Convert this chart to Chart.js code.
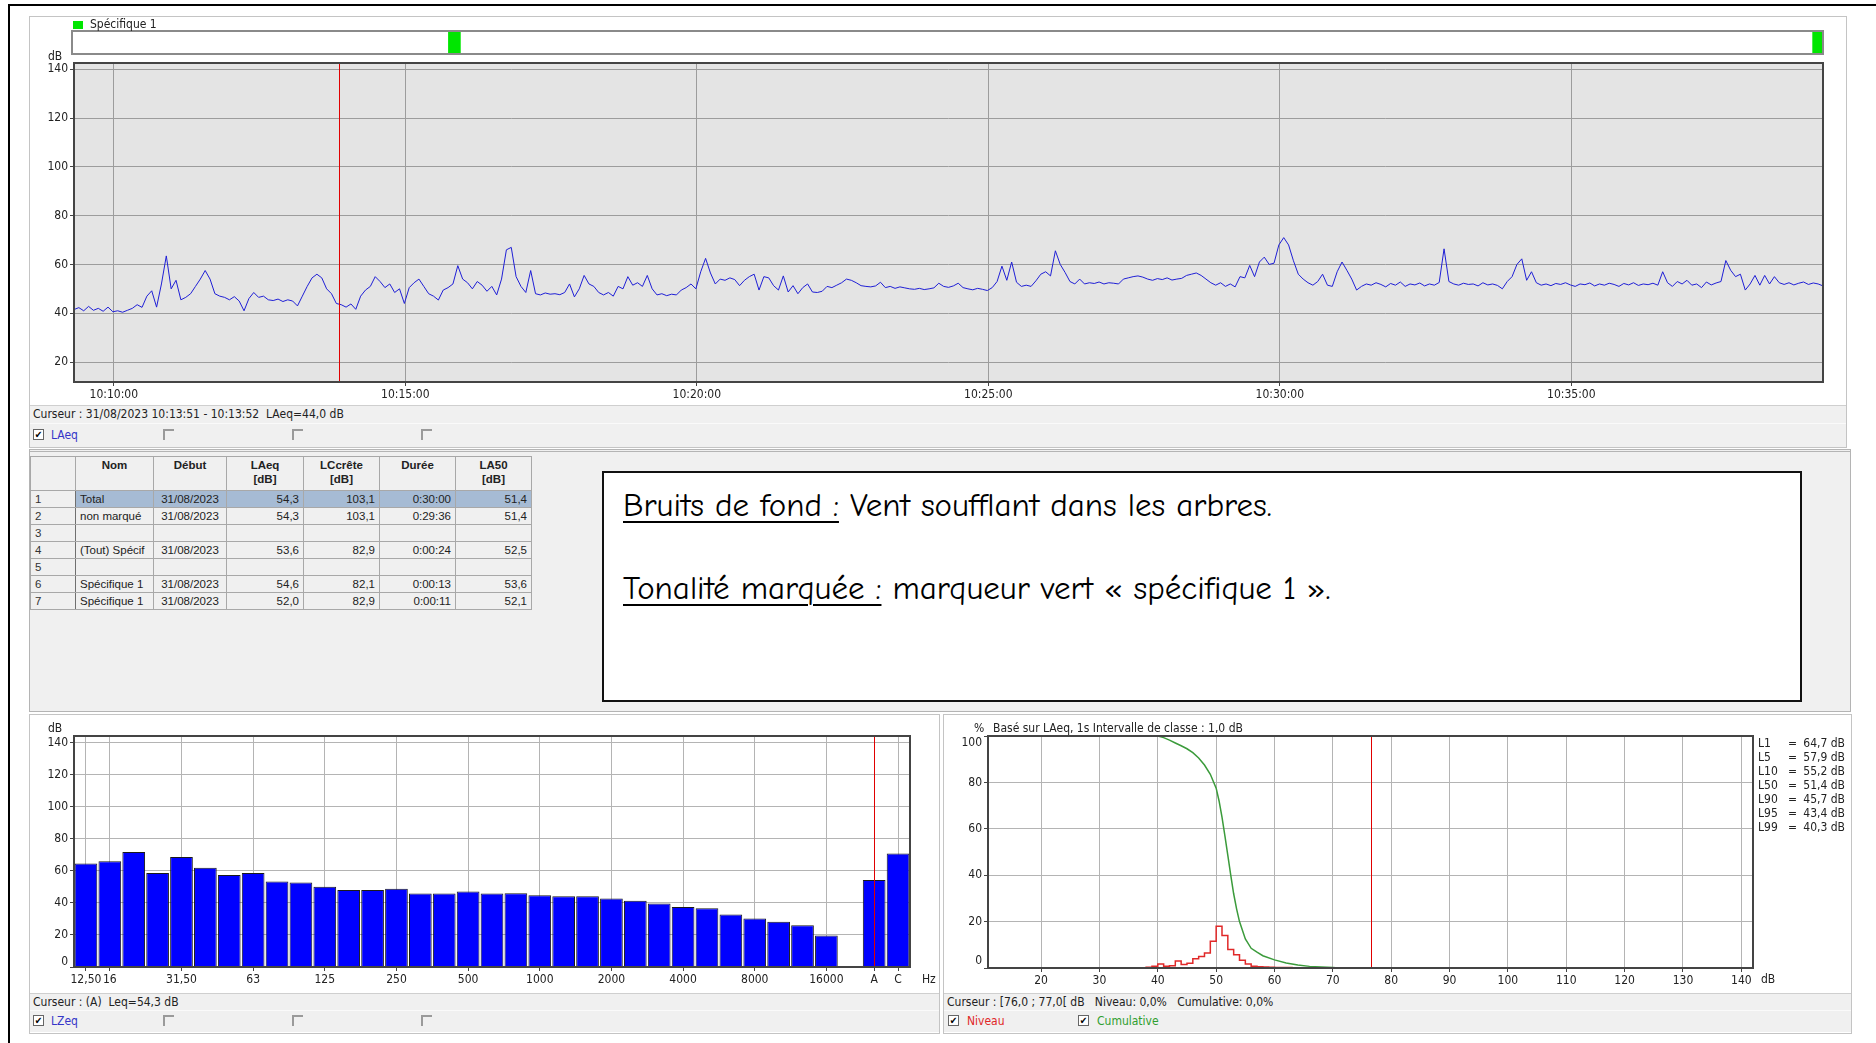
<!DOCTYPE html>
<html>
<head>
<meta charset="UTF-8">
<title>Mesure LAeq - 31/08/2023</title>
<script src="https://cdn.jsdelivr.net/npm/chart.js"></script>
<style>
  body { margin:0; width:1876px; height:1043px; position:relative; overflow:hidden; background:#fff;
         font-family:"Liberation Sans Narrow","DejaVu Sans Condensed",sans-serif; font-size:12px; color:#222; }
  .abs { position:absolute; box-sizing:border-box; }
  .frame { left:8px; top:4px; width:1868px; height:1039px; border-top:2px solid #000; border-left:2px solid #000; }
  .panel { background:#fff; border:1px solid #c4c4c4; }
  .strip { background:#f0f0f0; border-top:1px solid #cfcfcf; line-height:16px; padding-left:3px; white-space:pre; }
  .row { background:#f0f0f0; border-top:1px solid #fafafa; }
  .chk { width:11px; height:11px; background:#fff; border:1px solid #666; font-size:10px; line-height:10px; text-align:center; color:#000; }
  .off { width:11px; height:11px; border-top:2px solid #9a9a9a; border-left:2px solid #9a9a9a; }
  .lbl { line-height:14px; white-space:pre; }
  canvas { position:absolute; }
  #tbl { position:absolute; left:30px; top:456px; border-collapse:collapse; font-family:"Liberation Sans",Arial,sans-serif; font-size:11.5px; table-layout:fixed; }
  #tbl td, #tbl th { border:1px solid #a8a8a8; padding:0 4px; height:16px; line-height:15px; white-space:nowrap; overflow:hidden; }
  #tbl th { background:#f0f0f0; font-weight:bold; height:32px; vertical-align:top; text-align:center; line-height:14px; padding-top:1px; }
  #tbl td.num { background:#f0f0f0; border-right:1px solid #707070; text-align:left; color:#333; }
  #tbl tr.sel td:not(.num) { background:#a6bbd4; }
  .note { left:602px; top:471px; width:1200px; height:231px; background:#fff; border:2px solid #111; }
  .note p { position:absolute; left:19px; margin:0; font-family:"Comic Sans MS","Comic Neue","Noto Sans",sans-serif; font-size:33px; line-height:38px; white-space:nowrap; color:#000; }
  .note u { text-decoration-thickness:2px; text-underline-offset:5px; }
</style>
</head>
<body>
<div class="abs frame"></div>

<!-- panneau du haut -->
<div class="abs panel" style="left:29px;top:16px;width:1818px;height:432px;"></div>
<canvas id="laeqChart" width="1818" height="389" style="left:29px;top:16px;"></canvas>
<div class="abs strip" style="left:30px;top:405px;width:1816px;height:18px;">Curseur : 31/08/2023 10:13:51 - 10:13:52  LAeq=44,0 dB</div>
<div class="abs row" style="left:30px;top:423px;width:1816px;height:24px;"></div>
<div class="abs chk" style="left:33px;top:429px;">✔</div>
<div class="abs lbl" style="left:51px;top:428px;color:#3535c8;">LAeq</div>
<div class="abs off" style="left:163px;top:429px;"></div>
<div class="abs off" style="left:292px;top:429px;"></div>
<div class="abs off" style="left:421px;top:429px;"></div>

<!-- panneau du milieu -->
<div class="abs" style="left:29px;top:449px;width:1822px;height:263px;background:#f0f0f0;border:1px solid #b4b4b4;border-top:3px double #b4b4b4;"></div>
<table id="tbl"></table>
<div class="abs note">
  <p style="top:13px;"><u>Bruits de fond :</u> Vent soufflant dans les arbres.</p>
  <p style="top:96px;"><u>Tonalité marquée :</u> marqueur vert « spécifique 1 ».</p>
</div>

<!-- spectre -->
<div class="abs panel" style="left:29px;top:714px;width:911px;height:320px;"></div>
<canvas id="specChart" width="908" height="277" style="left:30px;top:716px;"></canvas>
<div class="abs strip" style="left:30px;top:993px;width:909px;height:17px;">Curseur : (A)  Leq=54,3 dB</div>
<div class="abs row" style="left:30px;top:1010px;width:909px;height:22px;"></div>
<div class="abs chk" style="left:33px;top:1015px;">✔</div>
<div class="abs lbl" style="left:51px;top:1014px;color:#3535c8;">LZeq</div>
<div class="abs off" style="left:163px;top:1015px;"></div>
<div class="abs off" style="left:292px;top:1015px;"></div>
<div class="abs off" style="left:421px;top:1015px;"></div>

<!-- distribution -->
<div class="abs panel" style="left:943px;top:714px;width:909px;height:320px;"></div>
<canvas id="distChart" width="907" height="277" style="left:944px;top:716px;"></canvas>
<div class="abs strip" style="left:944px;top:993px;width:907px;height:17px;">Curseur : [76,0 ; 77,0[ dB   Niveau: 0,0%   Cumulative: 0,0%</div>
<div class="abs row" style="left:944px;top:1010px;width:907px;height:22px;"></div>
<div class="abs chk" style="left:948px;top:1015px;">✔</div>
<div class="abs lbl" style="left:967px;top:1014px;color:#e02828;">Niveau</div>
<div class="abs chk" style="left:1078px;top:1015px;">✔</div>
<div class="abs lbl" style="left:1097px;top:1014px;color:#2f9e2f;">Cumulative</div>

<script>
// ---- données : évolution temporelle LAeq (pas de 5 s) ----
var laeqStartTime = '10:09:19';
var laeqStep = 5;
var laeq = [
  41.5, 42.3, 41.0, 42.8, 41.2, 42.0, 40.8, 42.5, 40.6, 41.0, 40.4, 41.2,
  42.0, 43.5, 42.4, 47.0, 49.2, 42.5, 52.0, 63.5, 50.0, 53.5, 45.5, 46.5, 48.0,
  51.0, 54.0, 57.5, 54.0, 48.0, 47.0, 46.5, 45.5, 46.8, 45.0, 41.0,
  46.0, 48.5, 46.5, 47.0, 45.5, 45.2, 45.8, 44.8, 45.5, 45.0, 43.0,
  47.0, 51.0, 54.5, 56.0, 54.5, 50.0, 48.0, 44.0, 43.5, 42.5, 43.8, 41.6,
  47.0, 49.5, 51.0, 55.0, 53.0, 50.5, 52.0, 48.5, 50.0, 44.0,
  50.5, 52.5, 54.0, 51.0, 48.0, 47.0, 45.4, 49.5, 50.5, 52.0, 59.5, 54.0,
  52.5, 50.0, 53.0, 51.5, 49.0, 51.0, 47.5, 54.0, 66.0, 67.0, 55.0, 51.0, 48.5, 57.5,
  48.0, 47.5, 48.3, 47.8, 48.0, 47.6, 48.5,
  52.0, 46.7, 50.0, 55.5, 52.0, 51.0, 48.5, 47.5, 48.5, 47.0,
  51.0, 50.0, 55.0, 51.5, 52.5, 51.0, 55.5, 50.0, 47.5, 48.0, 47.2, 47.8, 47.5,
  49.5, 50.5, 52.0, 50.0, 57.0, 62.5, 56.5, 52.0, 54.0, 53.5, 54.5, 53.8,
  51.3, 53.5, 55.0, 56.0, 49.5, 55.0, 54.5, 51.3, 49.5, 55.3, 48.7, 51.3, 48.0, 50.5, 52.0, 48.7, 48.5, 49.0,
  51.0, 50.5, 51.5, 52.5, 54.0, 53.5, 52.5, 51.3, 51.0, 50.8, 51.2, 52.7,
  50.5, 51.0, 50.2, 50.8, 50.4, 50.0, 49.8, 50.2, 49.7, 50.0, 50.4,
  52.3, 51.0, 50.6, 51.2, 52.3, 50.5, 50.0, 49.6, 50.2, 49.8, 49.3,
  50.5, 53.0, 59.3, 53.5, 61.0, 52.7, 51.0, 51.5, 51.0, 53.3, 56.0, 57.0, 55.3, 65.6, 60.0, 56.7, 53.0, 52.0, 54.0,
  52.0, 52.5, 52.2, 52.8, 52.0, 52.5, 52.3, 52.0, 54.0, 54.5, 55.0, 55.3, 54.8,
  54.0, 53.5, 54.2, 53.8, 54.5, 53.6, 54.0, 54.3, 55.5, 56.0, 56.5, 55.5, 54.0,
  52.5, 51.5, 52.5, 51.0, 52.0, 50.8, 55.0, 54.5, 59.6, 55.0, 61.0, 63.0, 60.0, 60.5,
  68.0, 71.0, 68.0, 61.5, 56.0, 54.0, 52.5, 51.5, 53.0, 56.0, 51.5, 51.0,
  57.0, 61.0, 57.6, 54.0, 49.5,
  51.0, 52.0, 51.5, 52.5, 51.8, 50.8, 52.2, 51.5, 52.8, 51.0, 52.0, 51.6, 52.4, 51.2, 52.0, 51.5, 52.6,
  66.4, 53.0, 52.0, 51.5, 52.3, 51.8, 52.0, 51.2, 52.5, 51.6, 52.0, 51.4,
  50.0, 53.0, 55.0, 60.0, 62.3, 53.5, 57.0, 52.5,
  51.5, 52.0, 51.3, 52.2, 51.8, 52.5, 51.6, 51.0, 52.0, 51.7, 52.4, 51.2, 52.0,
  51.5, 52.3, 51.8, 51.0, 52.2, 51.6, 52.5, 51.4, 52.0, 51.7, 52.3, 51.5, 57.0,
  52.5, 51.0, 53.0, 52.0, 53.5, 51.5, 52.0, 50.5, 52.8, 51.6, 52.4, 53.0,
  61.6, 57.6, 55.0, 56.0, 49.5, 52.0, 55.5, 51.5, 55.5, 52.0, 55.0, 52.5,
  51.8, 52.5, 51.6, 52.3, 52.8, 51.8, 52.4, 52.0, 51.2
];
var timeTickLabels = ['10:10:00', '10:15:00', '10:20:00', '10:25:00', '10:30:00', '10:35:00'];
var levelTicks = [20, 40, 60, 80, 100, 120, 140];
var cursorTime = '10:13:51';
var markerStart = ['10:15:44', '10:39:08'];
var markerEnd = ['10:15:57', '10:39:19'];
var laeqEndTime = '10:39:19';

// ---- données : spectre 1/3 d'octave ----
var bandLabels = ['12,50', '16', '20', '25', '31,50', '40', '50', '63', '80', '100', '125', '160', '200', '250',
  '315', '400', '500', '630', '800', '1000', '1250', '1600', '2000', '2500', '3150', '4000', '5000', '6300',
  '8000', '10000', '12500', '16000', '', 'A', 'C'];
var bandLevels = [64.6, 66.0, 71.8, 58.7, 68.7, 61.9, 57.4, 58.7, 53.3, 52.7, 50.1, 48.0, 48.0, 48.8,
  45.9, 45.9, 47.2, 45.9, 46.0, 44.8, 44.1, 44.1, 42.7, 41.4, 39.6, 37.5, 36.7, 32.8,
  30.2, 28.3, 26.1, 19.7, null, 54.3, 70.8];
var bandShown = ['12,50', '16', '31,50', '63', '125', '250', '500', '1000', '2000', '4000', '8000', '16000', 'A', 'C'];
var specTicks = [0, 20, 40, 60, 80, 100, 120, 140];

// ---- données : distribution statistique ----
var niveauDb = [38, 39, 40, 41, 42, 43, 44, 45, 46, 47, 48, 49, 50, 51, 52, 53, 54, 55, 56, 57, 58, 59, 60, 61, 62, 63, 64, 65, 66];
var niveauPct = [0, 0.3, 0.8, 1.7, 0.8, 1.0, 3.0, 1.5, 2.0, 4.0, 5.0, 6.5, 11.5, 18.0, 14.0, 8.0, 5.7, 3.3, 1.7, 0.8, 0.5, 0.4, 0.3, 0.2, 0.2, 0.2, 0.1, 0.1, 0];
var cumDb = [10.9, 40, 41, 42, 43, 44, 45, 46, 47, 48, 49, 50, 50.5, 51, 51.5, 52, 52.5, 53, 53.5, 54, 55, 56, 57, 58, 60, 62, 64, 66, 68, 70, 71];
var cumPct = [100, 100, 99.3, 98.2, 97, 95.8, 94.5, 92.8, 90.5, 87.5, 83.5, 77.5, 72, 65, 57, 48.5, 40, 32, 25.5, 20, 12.5, 8.5, 6.8, 5.3, 3.5, 2.2, 1.3, 0.7, 0.4, 0.2, 0];
var distXTicks = [20, 30, 40, 50, 60, 70, 80, 90, 100, 110, 120, 130, 140];
var distYTicks = [0, 20, 40, 60, 80, 100];
var distCursor = 76.5;
var statNames = ['L1', 'L5', 'L10', 'L50', 'L90', 'L95', 'L99'];
var statValues = ['64,7', '57,9', '55,2', '51,4', '45,7', '43,4', '40,3'];

// ---- données : tableau ----
var tableHead = ['', 'Nom', 'Début', 'LAeq<br>[dB]', 'LCcrête<br>[dB]', 'Durée', 'LA50<br>[dB]'];
var tableWidths = [45, 78, 73, 77, 76, 76, 76];
var tableRows = [
  ['1', 'Total', '31/08/2023', '54,3', '103,1', '0:30:00', '51,4'],
  ['2', 'non marqué', '31/08/2023', '54,3', '103,1', '0:29:36', '51,4'],
  ['3', '', '', '', '', '', ''],
  ['4', '(Tout) Spécif', '31/08/2023', '53,6', '82,9', '0:00:24', '52,5'],
  ['5', '', '', '', '', '', ''],
  ['6', 'Spécifique 1', '31/08/2023', '54,6', '82,1', '0:00:13', '53,6'],
  ['7', 'Spécifique 1', '31/08/2023', '52,0', '82,9', '0:00:11', '52,1']
];
var tableAlign = ['left', 'left', 'center', 'right', 'right', 'right', 'right'];

// ---------------------------------------------------------------
var NARROW = '"Liberation Sans Narrow", "DejaVu Sans Condensed", sans-serif';
var tickFont = { family: NARROW, size: 12 };

function toSec(str) {
  var p = str.split(':').map(Number);
  return p[0] * 3600 + p[1] * 60 + p[2];
}
function pad(n) { return (n < 10 ? '0' : '') + n; }
function hms(s) {
  return Math.floor(s / 3600) + ':' + pad(Math.floor(s % 3600 / 60)) + ':' + pad(Math.round(s % 60));
}
function fixTicks(list) {
  return function (scale) { scale.ticks = list.map(function (v) { return { value: v }; }); };
}

// table
var tbl = document.getElementById('tbl');
var html = '<colgroup>' + tableWidths.map(function (w) { return '<col style="width:' + w + 'px">'; }).join('') + '</colgroup>';
html += '<tr>' + tableHead.map(function (h) { return '<th>' + h + '</th>'; }).join('') + '</tr>';
tableRows.forEach(function (r, i) {
  html += '<tr' + (i === 0 ? ' class="sel"' : '') + '>' + r.map(function (c, j) {
    return '<td' + (j === 0 ? ' class="num"' : '') + ' style="text-align:' + tableAlign[j] + '">' + c + '</td>';
  }).join('') + '</tr>';
});
tbl.innerHTML = html;

// ---- graphe temporel ----
var t0 = toSec(laeqStartTime);
var laeqPoints = laeq.map(function (v, i) { return { x: t0 + i * laeqStep, y: v }; });

new Chart(document.getElementById('laeqChart'), {
  type: 'line',
  data: { datasets: [{ data: laeqPoints, borderColor: '#1f1fd6', borderWidth: 1, pointRadius: 0, tension: 0 }] },
  options: {
    responsive: false, animation: false,
    layout: { padding: { top: 47, right: 24, left: 0, bottom: 0 }, autoPadding: false },
    plugins: { legend: { display: false }, tooltip: { enabled: false } },
    scales: {
      x: {
        type: 'linear', min: t0, max: toSec(laeqEndTime),
        afterBuildTicks: fixTicks(timeTickLabels.map(toSec)),
        afterFit: function (s) { s.height = 23; },
        ticks: { callback: function (v) { return hms(v); }, font: tickFont, color: '#222', padding: 2, maxRotation: 0, autoSkip: false },
        grid: { color: '#9c9c9c', tickLength: 4, tickColor: '#444' },
        border: { display: false }
      },
      y: {
        min: 11.8, max: 142.6,
        afterBuildTicks: fixTicks(levelTicks),
        afterFit: function (s) { s.width = 45; },
        ticks: { font: tickFont, color: '#222', padding: 2 },
        grid: { color: '#9c9c9c', tickLength: 4, tickColor: '#444' },
        border: { display: false }
      }
    }
  },
  plugins: [{
    id: 'laeqDecor',
    beforeDraw: function (chart) {
      var a = chart.chartArea, c = chart.ctx;
      c.fillStyle = '#e4e4e4';
      c.fillRect(a.left, a.top, a.right - a.left, a.bottom - a.top);
    },
    afterDraw: function (chart) {
      var a = chart.chartArea, c = chart.ctx, x = chart.scales.x;
      c.save();
      // curseur
      var cx = Math.round(x.getPixelForValue(toSec(cursorTime) + 0.5)) + 0.5;
      c.strokeStyle = '#e00000'; c.lineWidth = 1;
      c.beginPath(); c.moveTo(cx, a.top); c.lineTo(cx, a.bottom); c.stroke();
      // cadre
      c.strokeStyle = '#444'; c.lineWidth = 2;
      c.strokeRect(a.left, a.top, a.right - a.left, a.bottom - a.top);
      // bande des marqueurs
      var top = 15, bot = 38;
      c.fillStyle = '#fff';
      c.fillRect(a.left - 2, top, a.right - a.left + 2, bot - top);
      c.fillStyle = '#00e600';
      markerStart.forEach(function (s, i) {
        var x1 = x.getPixelForValue(toSec(s)), x2 = x.getPixelForValue(toSec(markerEnd[i]));
        c.fillRect(x1, top, x2 - x1, bot - top);
      });
      c.strokeStyle = '#8a8a8a'; c.lineWidth = 2;
      c.strokeRect(a.left - 2, top, a.right - a.left + 2, bot - top);
      // légende
      c.fillStyle = '#00e600';
      c.fillRect(44, 5, 10, 8);
      c.fillStyle = '#222';
      c.font = '12px ' + NARROW;
      c.textBaseline = 'middle';
      c.fillText('Spécifique 1', 61, 9);
      c.fillText('dB', 19, 41);
      c.restore();
    }
  }]
});

// ---- spectre ----
new Chart(document.getElementById('specChart'), {
  type: 'bar',
  data: {
    labels: bandLabels,
    datasets: [{ data: bandLevels, backgroundColor: '#0000ff', borderColor: '#1a1a1a', borderWidth: 1,
      borderSkipped: 'bottom', barPercentage: 1, categoryPercentage: 0.95 }]
  },
  options: {
    responsive: false, animation: false,
    layout: { padding: { top: 20, right: 28, left: 0, bottom: 0 }, autoPadding: false },
    plugins: { legend: { display: false }, tooltip: { enabled: false } },
    scales: {
      x: {
        offset: true,
        afterFit: function (s) { s.height = 26; },
        ticks: {
          autoSkip: false, maxRotation: 0, font: tickFont, color: '#222', padding: 2,
          callback: function (v, i) { return bandShown.indexOf(bandLabels[i]) >= 0 ? bandLabels[i] : ''; }
        },
        grid: {
          offset: false, tickLength: 4,
          color: function (ctx) { return bandShown.indexOf(bandLabels[ctx.index]) >= 0 ? '#b4b4b4' : 'rgba(0,0,0,0)'; },
          tickColor: function (ctx) { return bandShown.indexOf(bandLabels[ctx.index]) >= 0 ? '#444' : 'rgba(0,0,0,0)'; }
        },
        border: { display: false }
      },
      y: {
        min: 0, max: 144.2,
        afterBuildTicks: fixTicks(specTicks),
        afterFit: function (s) { s.width = 44; },
        ticks: {
          font: tickFont, color: '#222', padding: 2,
          callback: function (v) { return v === 0 ? '' : v; }
        },
        grid: { color: '#b4b4b4', tickLength: 4, tickColor: '#444' },
        border: { display: false }
      }
    }
  },
  plugins: [{
    id: 'specDecor',
    afterDraw: function (chart) {
      var a = chart.chartArea, c = chart.ctx, x = chart.scales.x, y = chart.scales.y;
      c.save();
      var cx = Math.round(x.getPixelForTick(bandLabels.indexOf('A'))) + 0.5;
      c.strokeStyle = '#e00000'; c.lineWidth = 1;
      c.beginPath(); c.moveTo(cx, a.top); c.lineTo(cx, a.bottom); c.stroke();
      c.strokeStyle = '#444'; c.lineWidth = 2;
      c.strokeRect(a.left, a.top, a.right - a.left, a.bottom - a.top);
      c.fillStyle = '#222';
      c.font = '12px ' + NARROW;
      c.textBaseline = 'middle';
      c.fillText('dB', 18, 13);
      c.fillText('Hz', a.right + 12, a.bottom + 13);
      c.textAlign = 'right';
      c.fillText('0', a.left - 6, y.getPixelForValue(0) - 5);
      c.restore();
    }
  }]
});

// ---- distribution ----
new Chart(document.getElementById('distChart'), {
  type: 'line',
  data: {
    datasets: [
      { data: niveauDb.map(function (d, i) { return { x: d, y: niveauPct[i] }; }), stepped: 'after',
        borderColor: '#e02828', borderWidth: 1.5, pointRadius: 0 },
      { data: cumDb.map(function (d, i) { return { x: d, y: cumPct[i] }; }),
        borderColor: '#3b9b3b', borderWidth: 1.5, pointRadius: 0, tension: 0 }
    ]
  },
  options: {
    responsive: false, animation: false,
    layout: { padding: { top: 20, right: 98, left: 0, bottom: 0 }, autoPadding: false },
    plugins: { legend: { display: false }, tooltip: { enabled: false } },
    scales: {
      x: {
        type: 'linear', min: 10.9, max: 142,
        afterBuildTicks: fixTicks(distXTicks),
        afterFit: function (s) { s.height = 25; },
        ticks: { font: tickFont, color: '#222', padding: 2, maxRotation: 0, autoSkip: false },
        grid: { color: '#b4b4b4', tickLength: 4, tickColor: '#444' },
        border: { display: false }
      },
      y: {
        min: 0, max: 100,
        afterBuildTicks: fixTicks(distYTicks),
        afterFit: function (s) { s.width = 44; },
        ticks: {
          font: tickFont, color: '#222', padding: 2,
          callback: function (v) { return (v === 0 || v === 100) ? '' : v; }
        },
        grid: { color: '#b4b4b4', tickLength: 4, tickColor: '#444' },
        border: { display: false }
      }
    }
  },
  plugins: [{
    id: 'distDecor',
    afterDraw: function (chart) {
      var a = chart.chartArea, c = chart.ctx, x = chart.scales.x, y = chart.scales.y;
      c.save();
      var cx = Math.round(x.getPixelForValue(distCursor)) + 0.5;
      c.strokeStyle = '#e00000'; c.lineWidth = 1;
      c.beginPath(); c.moveTo(cx, a.top); c.lineTo(cx, a.bottom); c.stroke();
      c.strokeStyle = '#444'; c.lineWidth = 2;
      c.strokeRect(a.left, a.top, a.right - a.left, a.bottom - a.top);
      c.fillStyle = '#222';
      c.font = '12px ' + NARROW;
      c.textBaseline = 'middle';
      c.fillText('%', 30, 13);
      c.fillText('Basé sur LAeq, 1s Intervalle de classe : 1,0 dB', 49, 13);
      c.fillText('dB', a.right + 8, a.bottom + 12);
      statNames.forEach(function (n, i) {
        var ly = 28 + i * 14;
        c.textAlign = 'left';
        c.fillText(n, a.right + 5, ly);
        c.fillText('=', a.right + 35, ly);
        c.textAlign = 'right';
        c.fillText(statValues[i] + ' dB', a.right + 92, ly);
      });
      c.textAlign = 'right';
      c.fillText('100', a.left - 6, y.getPixelForValue(100) + 7);
      c.fillText('0', a.left - 6, y.getPixelForValue(0) - 7);
      c.restore();
    }
  }]
});
</script>
</body>
</html>
